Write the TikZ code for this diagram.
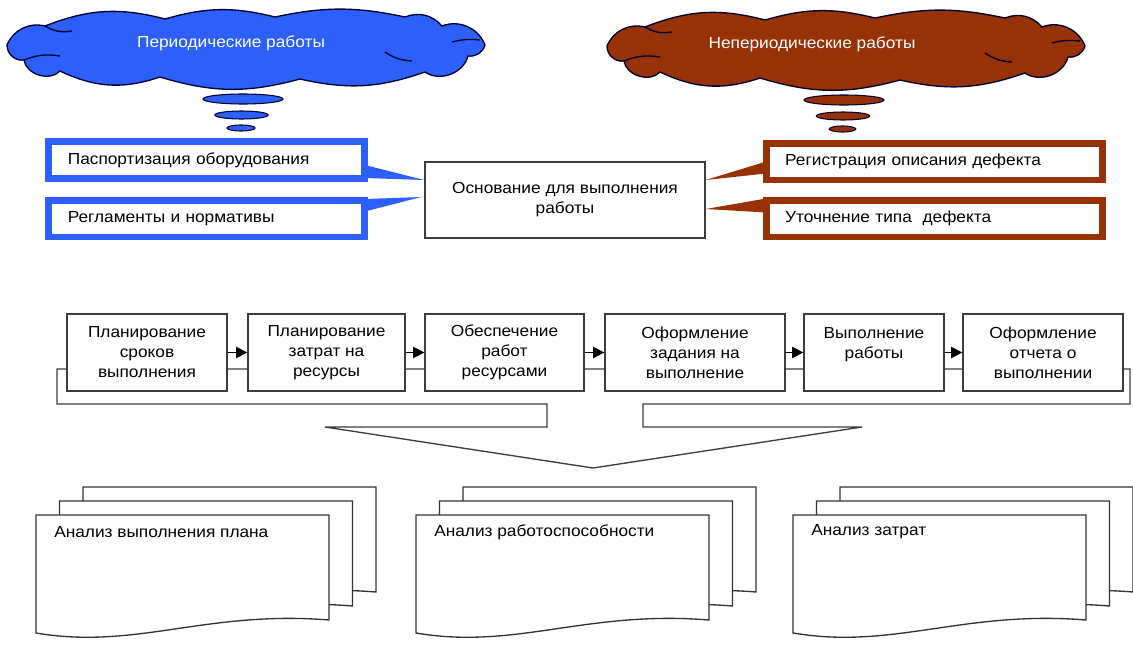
\documentclass[tikz,border=0pt]{standalone}
\usepackage{fontspec}
\setmainfont{Liberation Sans}[FakeStretch=1.08]
\usetikzlibrary{shapes.geometric,arrows.meta,calc}
\definecolor{perblue}{RGB}{45,95,250}
\definecolor{nonred}{RGB}{150,50,5}
\definecolor{edgegray}{RGB}{60,60,60}

\begin{document}
\begin{tikzpicture}[x=0.75pt, y=-0.75pt,
      every node/.style={font=\fontsize{12}{15}\selectfont},
      puff/.style={draw=black!80!blue, line width=1pt},
      cloudtext/.style={text=white},
      bubble/.style={ellipse, draw=black!80!blue, line width=0.8pt, inner sep=0pt},
      srcbox/.style={draw=perblue, line width=5pt, fill=white, align=left,
         minimum height=27.5pt, inner xsep=14.5pt, text width=208pt},
      repbox/.style={draw=nonred, line width=5pt, fill=white, align=left,
         minimum height=27.5pt, inner xsep=14pt, text width=224pt},
      outline/.style={draw=edgegray, line width=1pt},
      basebox/.style={outline, fill=white, align=center},
      procbox/.style={outline, fill=white, align=center, minimum height=57.75pt},
      flow/.style={-{Triangle[length=8.5pt,width=8.5pt]}, line width=1.2pt},
      sheet/.style={draw=black!80, line width=1pt, fill=white},
      doclabel/.style={anchor=west, inner sep=0pt}]
   \useasboundingbox (0,0) rectangle (1133,646);

   \foreach \cx/\cy/\ccol in {0/0/perblue, 600/1/nonred} {
      \draw[puff, fill=\ccol, shift={(\cx,\cy)}] (7,45) to[bend left=40] (45,26) to[bend left=18] (165,19)
         to[bend left=15] (275,17) to[bend left=12] (405,17) to[bend left=35] (442,26)
         to[bend left=45] (485,45) to[bend left=40] (468,56) to[bend left=55] (425,72)
         to[bend left=16] (300,79) to[bend left=16] (160,77) to[bend left=22] (60,71)
         to[bend left=65] (24,60) to[bend left=50] (7,45) -- cycle;
      \draw[puff, shift={(\cx,\cy)}] (24,60) to[bend left=15] (60,56) (385,52) to[bend right=15] (412,61)
         (452,42) to[bend left=10] (480,40) (45,26) to[bend right=20] (72,31);
   }

   \begin{scope}[name prefix = per-]
      \node[cloudtext] (cloud) at (231,43) {Периодические работы};
      \node[bubble, fill=perblue, minimum width=60pt, minimum height=7.5pt] (1) at (243,99) {};
      \node[bubble, fill=perblue, minimum width=40pt, minimum height=6pt] (2) at (241.5,115) {};
      \node[bubble, fill=perblue, minimum width=21pt, minimum height=4.5pt] (3) at (241,128) {};
   \end{scope}

   \begin{scope}[name prefix = non-]
      \node[cloudtext] (cloud) at (812,44) {Непериодические работы};
      \node[bubble, fill=nonred, minimum width=60pt, minimum height=7.5pt] (1) at (844,100) {};
      \node[bubble, fill=nonred, minimum width=40pt, minimum height=6pt] (2) at (843,116) {};
      \node[bubble, fill=nonred, minimum width=20pt, minimum height=4.5pt] (3) at (842.5,129) {};
   \end{scope}

   \begin{scope}[name prefix = src-]
      \node[srcbox] (1) at (206.5,160) {Паспортизация оборудования};
      \node[srcbox] (2) at (206.5,218.5) {Регламенты и нормативы};
   \end{scope}

   \begin{scope}[name prefix = rep-]
      \node[repbox] (1) at (934.5,161.5) {Регистрация описания дефекта};
      \node[repbox] (2) at (934.5,218.5) {Уточнение типа\ \ дефекта};
   \end{scope}

   \node[basebox, minimum width=210pt, minimum height=57pt] (base) at (565,200) {Основание для выполнения\\работы};

   \begin{scope}
      \fill[perblue] ($(src-1.east)+(-3,5)$) -- ($(src-1.east)+(-3,18)$) -- ($(base.west)+(0,-20)$) -- cycle;
      \fill[perblue] ($(src-2.east)+(-3,-19.5)$) -- ($(src-2.east)+(-3,-7)$) -- ($(base.west)+(-3,-3)$) -- cycle;
      \fill[nonred] ($(rep-1.west)+(3,0)$) -- ($(rep-1.west)+(3,12)$) -- ($(base.east)+(0,-20)$) -- cycle;
      \fill[nonred] ($(rep-2.west)+(3,-20)$) -- ($(rep-2.west)+(3,-6)$) -- ($(base.east)+(0,9)$) -- cycle;
   \end{scope}

   \draw[outline] (57,369) -- (1130,369) -- (1130,404) -- (643,404) -- (643,427) -- (862,427)
      -- (593,468) -- (325,427) -- (547,427) -- (547,404) -- (57,404) -- cycle;

   \begin{scope}[name prefix = proc-]
      \node[procbox, minimum width=120pt] (1) at (147,352.5) {Планирование\\сроков\\выполнения};
      \node[procbox, minimum width=117.75pt] (2) at (326.5,352.5) {Планирование\\затрат на\\ресурсы};
      \node[procbox, minimum width=119.25pt] (3) at (504.5,352.5) {Обеспечение\\работ\\ресурсами};
      \node[procbox, minimum width=135pt] (4) at (695,352.5) {Оформление\\задания на\\выполнение};
      \node[procbox, minimum width=105pt] (5) at (874,352.5) {Выполнение\\работы\\\mbox{}};
      \node[procbox, minimum width=120pt] (6) at (1043,352.5) {Оформление\\отчета о\\выполнении};
   \end{scope}

   \begin{scope}
      \draw[flow] (proc-1) -- (proc-2);
      \draw[flow] (proc-2) -- (proc-3);
      \draw[flow] (proc-3) -- (proc-4);
      \draw[flow] (proc-4) -- (proc-5);
      \draw[flow] (proc-5) -- (proc-6);
   \end{scope}

   \foreach \dx/\dtext [count=\n] in {36/Анализ выполнения плана, 416/Анализ работоспособности, 793/Анализ затрат} {
      \foreach \k in {2,1,0} {
         \draw[sheet, shift={(\dx+23.5*\k,515-14*\k)}] (0,0) -- (293,0) -- (293,105)
            .. controls (170,95) and (100,135) .. (0,118) -- cycle;
      }
      \node[doclabel] (doc-\n) at (\dx+18,532) {\dtext};
   }
\end{tikzpicture}
\end{document}
